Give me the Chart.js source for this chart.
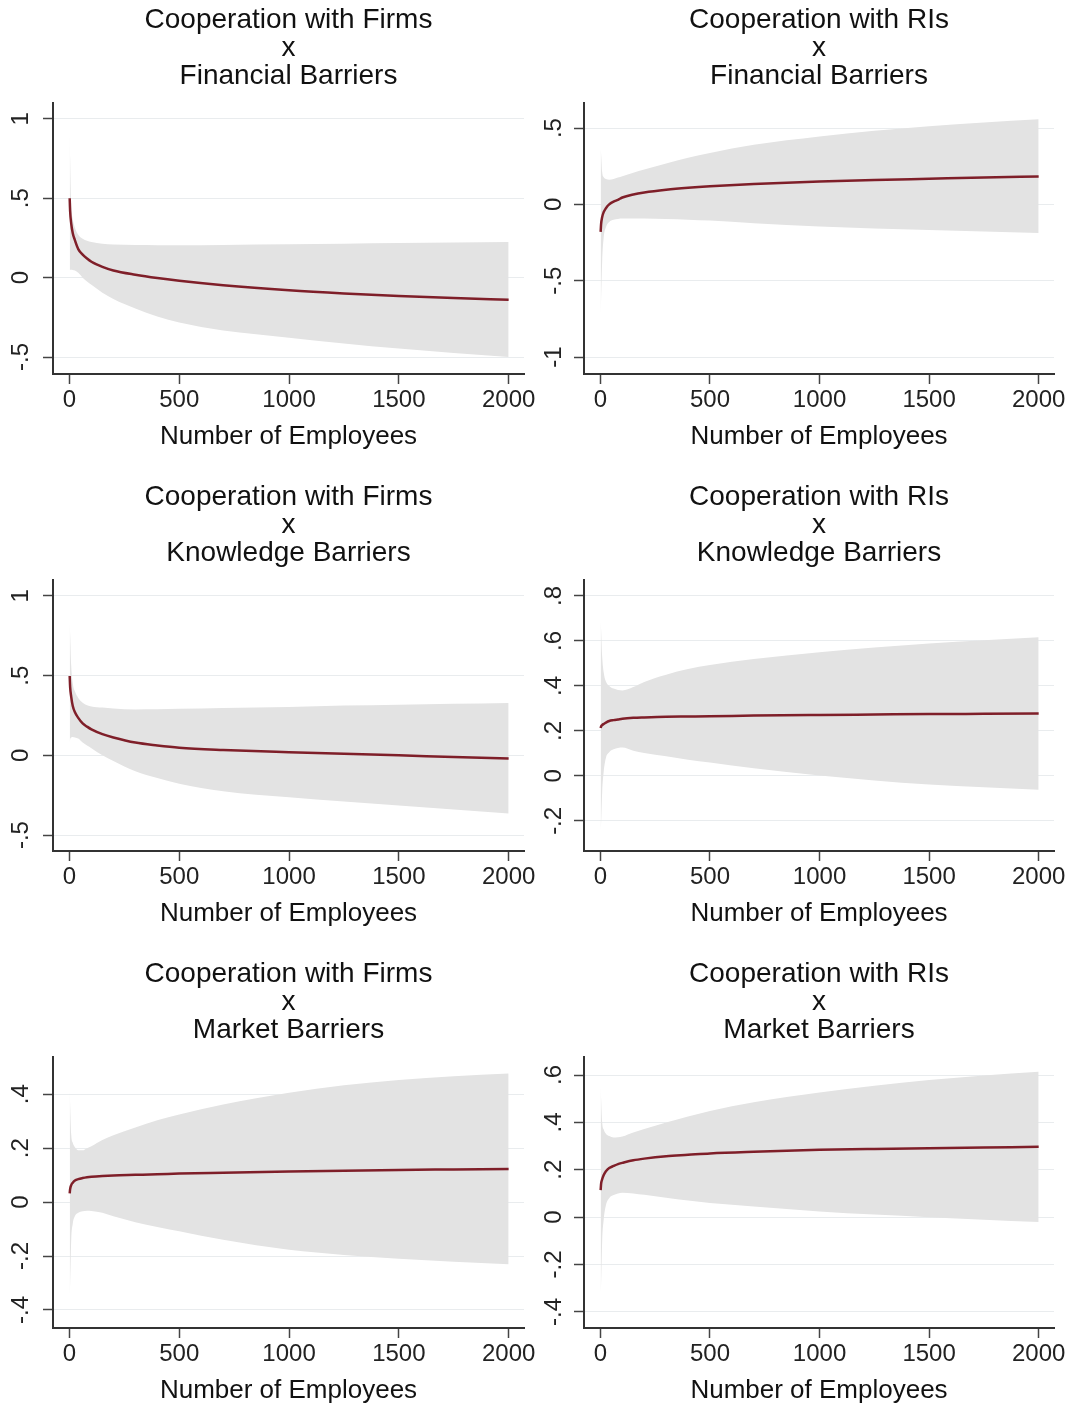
<!DOCTYPE html>
<html>
<head>
<meta charset="utf-8">
<script src="https://cdn.jsdelivr.net/npm/chart.js@4.4.1/dist/chart.umd.min.js"></script>
<style>
  body { margin: 0; background: #fff; }
  #wrap { position: relative; width: 1073px; height: 1405px; overflow: hidden; }
  #wrap canvas { position: absolute; }
</style>
</head>
<body>
<div id="wrap"></div>
<script>
// x values (number of employees) at which the curves were read
const employees = [1, 3, 8, 15, 25, 40, 60, 80, 100, 150, 200, 300, 400, 500, 700, 1000, 1250, 1500, 1750, 2000];

const xTickVals = [0, 500, 1000, 1500, 2000];
const xTickLabels = ['0', '500', '1000', '1500', '2000'];

// Cooperation with Firms x Financial Barriers
const firmsFinMid = [0.50, 0.42, 0.34, 0.28, 0.235, 0.18, 0.145, 0.12, 0.10, 0.068, 0.045, 0.018, -0.003, -0.02, -0.048, -0.08, -0.10, -0.116, -0.129, -0.14];
const firmsFinHi  = [0.93, 0.75, 0.46, 0.37, 0.315, 0.27, 0.245, 0.232, 0.224, 0.213, 0.208, 0.205, 0.204, 0.204, 0.206, 0.21, 0.214, 0.218, 0.221, 0.225];
const firmsFinLo  = [0.045, 0.05, 0.05, 0.048, 0.045, 0.03, 0.0, -0.025, -0.045, -0.095, -0.135, -0.195, -0.245, -0.283, -0.333, -0.378, -0.415, -0.447, -0.475, -0.50];
const firmsFinTicks = [-0.5, 0, 0.5, 1];
const firmsFinLabels = ['-.5', '0', '.5', '1'];

// Cooperation with RIs x Financial Barriers
const risFinMid = [-0.18, -0.13, -0.083, -0.05, -0.025, 0.0, 0.018, 0.03, 0.045, 0.065, 0.078, 0.096, 0.109, 0.119, 0.134, 0.15, 0.16, 0.168, 0.176, 0.183];
const risFinHi  = [0.365, 0.33, 0.21, 0.178, 0.166, 0.162, 0.166, 0.176, 0.185, 0.207, 0.228, 0.268, 0.305, 0.337, 0.39, 0.445, 0.482, 0.512, 0.537, 0.557];
const risFinLo  = [-0.73, -0.62, -0.37, -0.215, -0.15, -0.115, -0.1, -0.095, -0.093, -0.092, -0.093, -0.096, -0.1, -0.106, -0.124, -0.145, -0.158, -0.168, -0.178, -0.188];
const risFinTicks = [-1, -0.5, 0, 0.5];
const risFinLabels = ['-1', '-.5', '0', '.5'];

// Cooperation with Firms x Knowledge Barriers
const firmsKnowMid = [0.498, 0.43, 0.367, 0.31, 0.27, 0.235, 0.2, 0.18, 0.163, 0.133, 0.112, 0.08, 0.062, 0.048, 0.034, 0.02, 0.01, 0.0, -0.01, -0.02];
const firmsKnowHi  = [0.83, 0.76, 0.56, 0.452, 0.4, 0.36, 0.33, 0.315, 0.307, 0.3, 0.294, 0.288, 0.289, 0.292, 0.297, 0.304, 0.312, 0.318, 0.323, 0.328];
const firmsKnowLo  = [0.076, 0.1, 0.112, 0.115, 0.112, 0.105, 0.08, 0.062, 0.045, 0.0, -0.035, -0.1, -0.142, -0.178, -0.225, -0.263, -0.29, -0.315, -0.34, -0.365];
const firmsKnowTicks = [-0.5, 0, 0.5, 1];
const firmsKnowLabels = ['-.5', '0', '.5', '1'];

// Cooperation with RIs x Knowledge Barriers
const risKnowMid = [0.213, 0.22, 0.226, 0.231, 0.237, 0.244, 0.248, 0.251, 0.254, 0.258, 0.26, 0.263, 0.264, 0.265, 0.268, 0.271, 0.273, 0.275, 0.276, 0.277];
const risKnowHi  = [0.69, 0.65, 0.53, 0.46, 0.42, 0.4, 0.388, 0.382, 0.38, 0.395, 0.418, 0.45, 0.475, 0.493, 0.52, 0.55, 0.571, 0.589, 0.603, 0.616];
const risKnowLo  = [-0.246, -0.21, -0.07, 0.02, 0.08, 0.105, 0.118, 0.124, 0.126, 0.112, 0.102, 0.087, 0.072, 0.06, 0.034, 0.002, -0.02, -0.038, -0.051, -0.062];
const risKnowTicks = [-0.2, 0, 0.2, 0.4, 0.6, 0.8];
const risKnowLabels = ['-.2', '0', '.2', '.4', '.6', '.8'];

// Cooperation with Firms x Market Barriers
const firmsMktMid = [0.032, 0.048, 0.063, 0.072, 0.08, 0.085, 0.089, 0.092, 0.094, 0.097, 0.099, 0.101, 0.103, 0.106, 0.109, 0.113, 0.116, 0.119, 0.121, 0.123];
const firmsMktHi  = [0.42, 0.36, 0.25, 0.22, 0.203, 0.192, 0.192, 0.2, 0.207, 0.23, 0.248, 0.277, 0.303, 0.325, 0.362, 0.405, 0.433, 0.453, 0.467, 0.477];
const firmsMktLo  = [-0.35, -0.3, -0.14, -0.08, -0.052, -0.04, -0.034, -0.032, -0.033, -0.04, -0.053, -0.075, -0.092, -0.108, -0.14, -0.177, -0.196, -0.21, -0.221, -0.231];
const firmsMktTicks = [-0.4, -0.2, 0, 0.2, 0.4];
const firmsMktLabels = ['-.4', '-.2', '0', '.2', '.4'];

// Cooperation with RIs x Market Barriers
const risMktMid = [0.114, 0.14, 0.16, 0.178, 0.194, 0.207, 0.216, 0.224, 0.229, 0.24, 0.247, 0.257, 0.263, 0.269, 0.276, 0.284, 0.288, 0.291, 0.294, 0.297];
const risMktHi  = [0.552, 0.5, 0.4, 0.37, 0.352, 0.342, 0.336, 0.337, 0.34, 0.357, 0.372, 0.4, 0.425, 0.448, 0.485, 0.526, 0.555, 0.579, 0.598, 0.614];
const risMktLo  = [-0.323, -0.28, -0.1, -0.01, 0.05, 0.08, 0.093, 0.1, 0.103, 0.1, 0.094, 0.082, 0.07, 0.06, 0.045, 0.024, 0.011, 0.0, -0.011, -0.021];
const risMktTicks = [-0.4, -0.2, 0, 0.2, 0.4, 0.6];
const risMktLabels = ['-.4', '-.2', '0', '.2', '.4', '.6'];

const FONT = "'Liberation Sans', Arial, sans-serif";
const lineColor = '#7f1f29';
const bandColor = '#e3e3e3';

function pts(ys) {
  return employees.map((x, i) => ({ x: x, y: ys[i] }));
}

function panel(col, row, title, lo, mid, hi, yMin, yMax, yTicks, yLabels) {
  const canvas = document.createElement('canvas');
  canvas.width = col === 0 ? 545 : 543;
  canvas.height = 477;
  canvas.style.left = (col === 0 ? 0 : 530) + 'px';
  canvas.style.top = (row * 477) + 'px';
  document.getElementById('wrap').appendChild(canvas);

  const yWidth = col === 0 ? 53 : 54;
  const yPad = col === 0 ? 8 : 6;

  new Chart(canvas, {
    type: 'line',
    data: {
      datasets: [
        // fitted line first so it is painted on top of the band
        { data: pts(mid), borderColor: lineColor, borderWidth: 2.5, pointRadius: 0, fill: false, cubicInterpolationMode: 'monotone' },
        { data: pts(lo), borderWidth: 0, borderColor: 'rgba(0,0,0,0)', pointRadius: 0, fill: false, cubicInterpolationMode: 'monotone' },
        { data: pts(hi), borderWidth: 0, borderColor: 'rgba(0,0,0,0)', pointRadius: 0, fill: '-1', backgroundColor: bandColor, cubicInterpolationMode: 'monotone' }
      ]
    },
    options: {
      responsive: false,
      animation: false,
      devicePixelRatio: 1,
      layout: { padding: { left: 0, right: col === 0 ? 21 : 19, top: 0, bottom: 0 } },
      plugins: {
        legend: { display: false },
        tooltip: { enabled: false },
        title: {
          display: true,
          text: title,
          fullSize: false,
          color: '#111',
          font: { family: FONT, size: 28, weight: 'normal', lineHeight: '28px' },
          padding: { top: 6, bottom: 13 }
        }
      },
      scales: {
        x: {
          type: 'linear',
          min: -75,
          max: 2070,
          afterBuildTicks: s => { s.ticks = xTickVals.map(v => ({ value: v })); },
          afterFit: s => { s.height = 103; s.paddingLeft = 0; s.paddingRight = 0; },
          ticks: {
            callback: (v, i) => xTickLabels[i],
            autoSkip: false,
            maxRotation: 0,
            padding: 4,
            color: '#222',
            font: { family: FONT, size: 24, lineHeight: 1 }
          },
          grid: { drawOnChartArea: false, tickLength: 10, tickColor: '#444', tickWidth: 1.5 },
          border: { color: '#333', width: 2 },
          title: {
            display: true,
            text: 'Number of Employees',
            color: '#111',
            font: { family: FONT, size: 26, lineHeight: 1 },
            padding: { top: 0, bottom: 27 }
          }
        },
        y: {
          min: yMin,
          max: yMax,
          afterBuildTicks: s => { s.ticks = yTicks.map(v => ({ value: v })); },
          afterFit: s => { s.width = yWidth; s.paddingTop = 0; s.paddingBottom = 0; },
          ticks: {
            callback: (v, i) => yLabels[i],
            autoSkip: false,
            minRotation: 90,
            maxRotation: 90,
            crossAlign: 'center',
            padding: yPad,
            color: '#222',
            font: { family: FONT, size: 24, lineHeight: 1 }
          },
          grid: { color: '#e9ecee', lineWidth: 1, tickLength: 10, tickColor: '#444', tickWidth: 1.5 },
          border: { color: '#333', width: 2 }
        }
      }
    }
  });
}

panel(0, 0, ['Cooperation with Firms', 'x', 'Financial Barriers'], firmsFinLo, firmsFinMid, firmsFinHi, -0.607, 1.10, firmsFinTicks, firmsFinLabels);
panel(1, 0, ['Cooperation with RIs', 'x', 'Financial Barriers'], risFinLo, risFinMid, risFinHi, -1.111, 0.664, risFinTicks, risFinLabels);
panel(0, 1, ['Cooperation with Firms', 'x', 'Knowledge Barriers'], firmsKnowLo, firmsKnowMid, firmsKnowHi, -0.60, 1.10, firmsKnowTicks, firmsKnowLabels);
panel(1, 1, ['Cooperation with RIs', 'x', 'Knowledge Barriers'], risKnowLo, risKnowMid, risKnowHi, -0.334, 0.871, risKnowTicks, risKnowLabels);
panel(0, 2, ['Cooperation with Firms', 'x', 'Market Barriers'], firmsMktLo, firmsMktMid, firmsMktHi, -0.467, 0.538, firmsMktTicks, firmsMktLabels);
panel(1, 2, ['Cooperation with RIs', 'x', 'Market Barriers'], risMktLo, risMktMid, risMktHi, -0.468, 0.676, risMktTicks, risMktLabels);
</script>
</body>
</html>
